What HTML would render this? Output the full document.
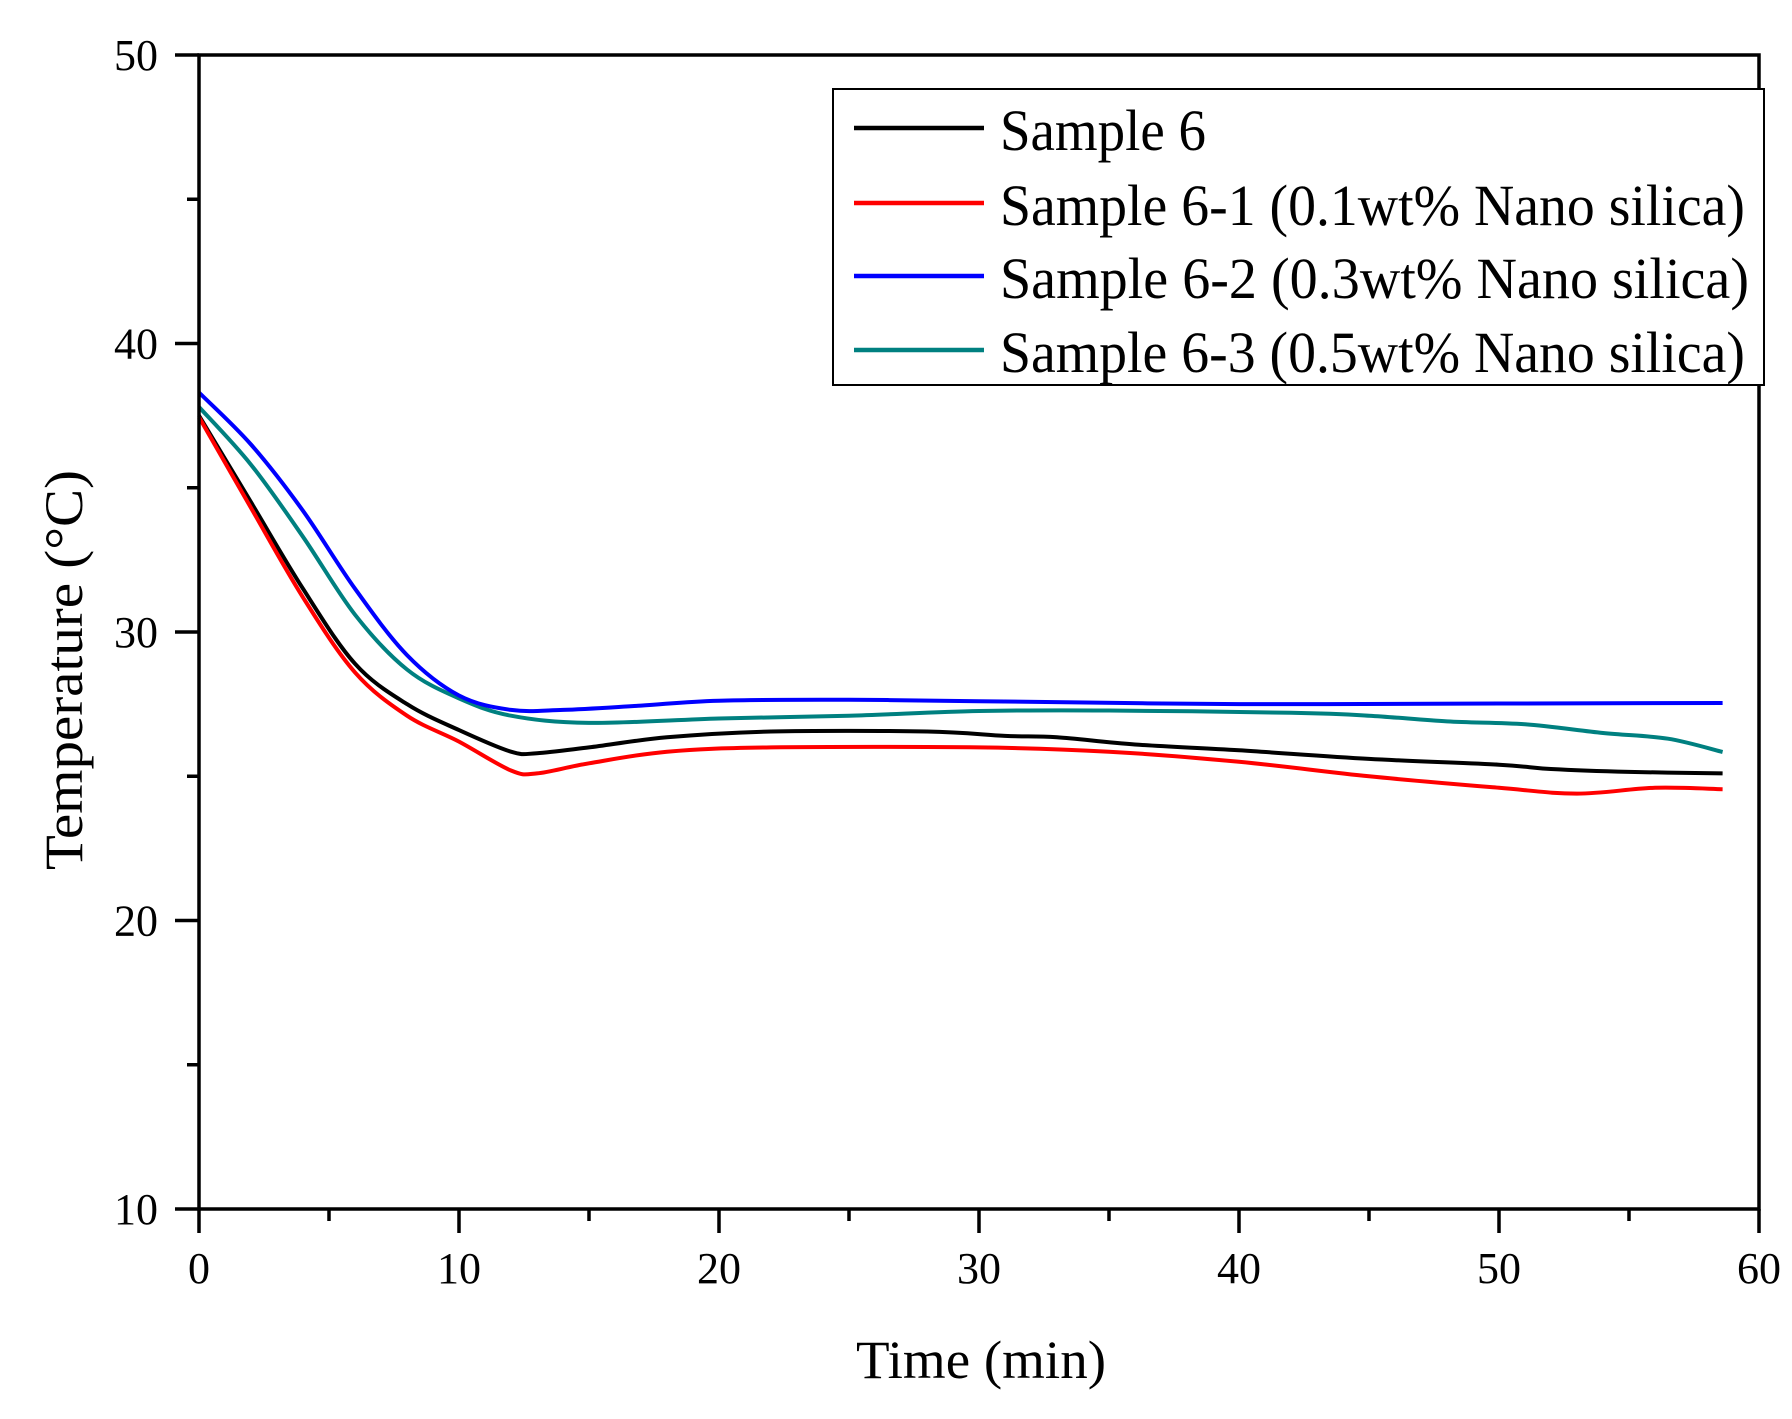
<!DOCTYPE html>
<html><head><meta charset="utf-8"><style>
html,body{margin:0;padding:0;background:#fff;}
svg{display:block;}
text{font-family:"Liberation Serif",serif;fill:#000;}
</style></head><body>
<svg id="chart" width="1792" height="1419" viewBox="0 0 1792 1419" xmlns="http://www.w3.org/2000/svg">
<g id="plot"></g>
<g id="axes"></g>
<g id="legend"></g>
</svg>
<script>
const xTicks = [0,10,20,30,40,50,60];
const yTicks = [10,20,30,40,50];
const seriesNames = ["Sample 6","Sample 6-1 (0.1wt% Nano silica)","Sample 6-2 (0.3wt% Nano silica)","Sample 6-3 (0.5wt% Nano silica)"];
const seriesColors = ["#000000","#ff0000","#0000ff","#008080"];
const s6T = [0,2,4,6,8,10,12,13,15,18,22,28,31,33,36,40,45,50,52,55,58.6];
const s6V = [37.5,34.5,31.5,28.9,27.5,26.6,25.85,25.8,26.0,26.35,26.55,26.55,26.4,26.35,26.1,25.9,25.6,25.4,25.25,25.15,25.1];
const s61T = [0,2,4,6,8,10,12,13,15,18,22,30,35,40,45,50,53,56,58.6];
const s61V = [37.45,34.3,31.2,28.6,27.1,26.2,25.2,25.1,25.45,25.85,26.0,26.0,25.85,25.5,25.0,24.6,24.4,24.6,24.55];
const s62T = [0,2,4,6,8,10,12,14,17,20,25,30,40,50,58.6];
const s62V = [38.3,36.5,34.2,31.5,29.2,27.8,27.3,27.3,27.45,27.62,27.65,27.6,27.5,27.52,27.54];
const s63T = [0,2,4,6,8,10,12,15,20,25,30,35,42,45,48,51,54,56.5,58.6];
const s63V = [37.8,35.8,33.3,30.6,28.7,27.7,27.1,26.85,27.0,27.1,27.26,27.28,27.2,27.1,26.9,26.8,26.5,26.3,25.84];

const NS="http://www.w3.org/2000/svg";
const X0=199,X1=1759,Y0=1209,Y1=55;
const xs=t=>X0+(t-0)/60*(X1-X0);
const ys=v=>Y0-(v-10)/40*(Y0-Y1);
function mk(tag,attrs,parent){const e=document.createElementNS(NS,tag);for(const k in attrs)e.setAttribute(k,attrs[k]);parent.appendChild(e);return e;}
const plot=document.getElementById('plot'),axes=document.getElementById('axes'),legend=document.getElementById('legend');

function smooth(T,V){
  const p=T.map((t,i)=>[xs(t),ys(V[i])]);
  let d="M"+p[0][0].toFixed(1)+","+p[0][1].toFixed(1);
  for(let i=0;i<p.length-1;i++){
    const a=p[i-1]||p[i],b=p[i],c=p[i+1],e=p[i+2]||c;
    const c1=[b[0]+(c[0]-a[0])/6,b[1]+(c[1]-a[1])/6];
    const c2=[c[0]-(e[0]-b[0])/6,c[1]-(e[1]-b[1])/6];
    d+="C"+c1[0].toFixed(1)+","+c1[1].toFixed(1)+" "+c2[0].toFixed(1)+","+c2[1].toFixed(1)+" "+c[0].toFixed(1)+","+c[1].toFixed(1);
  }
  return d;
}
const allT=[s6T,s61T,s62T,s63T],allV=[s6V,s61V,s62V,s63V];
const lineNames=['line-sample-6','line-sample-6-1','line-sample-6-2','line-sample-6-3'];
[0,1,3,2].forEach(i=>{
  const el=mk('path',{d:smooth(allT[i],allV[i]),fill:'none',stroke:seriesColors[i],'stroke-width':4,'stroke-linejoin':'round'},plot);
  
  
});

const fr=mk('rect',{x:X0,y:Y1,width:X1-X0,height:Y0-Y1,fill:'none',stroke:'#000','stroke-width':3.5},axes);


for(let t=0;t<=60;t+=5){
  const major=t%10===0;
  const tk=mk('line',{x1:xs(t),x2:xs(t),y1:Y0,y2:Y0+(major?24:12),stroke:'#000','stroke-width':3.5},axes);
  
  
}
xTicks.forEach(t=>{
  const tx=mk('text',{x:xs(t),y:1283,'font-size':44,'text-anchor':'middle'},axes);
  tx.textContent=t;
  
  
});
for(let v=10;v<=50;v+=5){
  const major=v%10===0;
  const tk=mk('line',{x1:X0-(major?24:12),x2:X0,y1:ys(v),y2:ys(v),stroke:'#000','stroke-width':3.5},axes);
  
  
}
yTicks.forEach(v=>{
  const tx=mk('text',{x:158,y:ys(v)+15,'font-size':44,'text-anchor':'end'},axes);
  tx.textContent=v;
  
  
});
const xt=mk('text',{x:981,y:1378,'font-size':54,'text-anchor':'middle',textLength:250,lengthAdjust:'spacingAndGlyphs'},axes);
xt.textContent='Time (min)';


const yt=mk('text',{x:0,y:0,'font-size':54,'text-anchor':'middle',transform:'translate(82,670) rotate(-90)',textLength:400,lengthAdjust:'spacingAndGlyphs'},axes);
yt.textContent='Temperature (°C)';



const lb=mk('rect',{x:833,y:89,width:931,height:296,fill:'#fff',stroke:'#000','stroke-width':2},legend);


const rowY=[128,203,276,350];
const widths=[206,745,749,745];
seriesNames.forEach((n,i)=>{
  const g=mk('g',{},legend);
  
  
  mk('line',{x1:854,x2:984,y1:rowY[i],y2:rowY[i],stroke:seriesColors[i],'stroke-width':4.5},g);
  const tx=mk('text',{x:1000,y:rowY[i]+22,'font-size':58,textLength:widths[i],lengthAdjust:'spacingAndGlyphs'},g);
  tx.textContent=n;
});
</script>
</body></html>
